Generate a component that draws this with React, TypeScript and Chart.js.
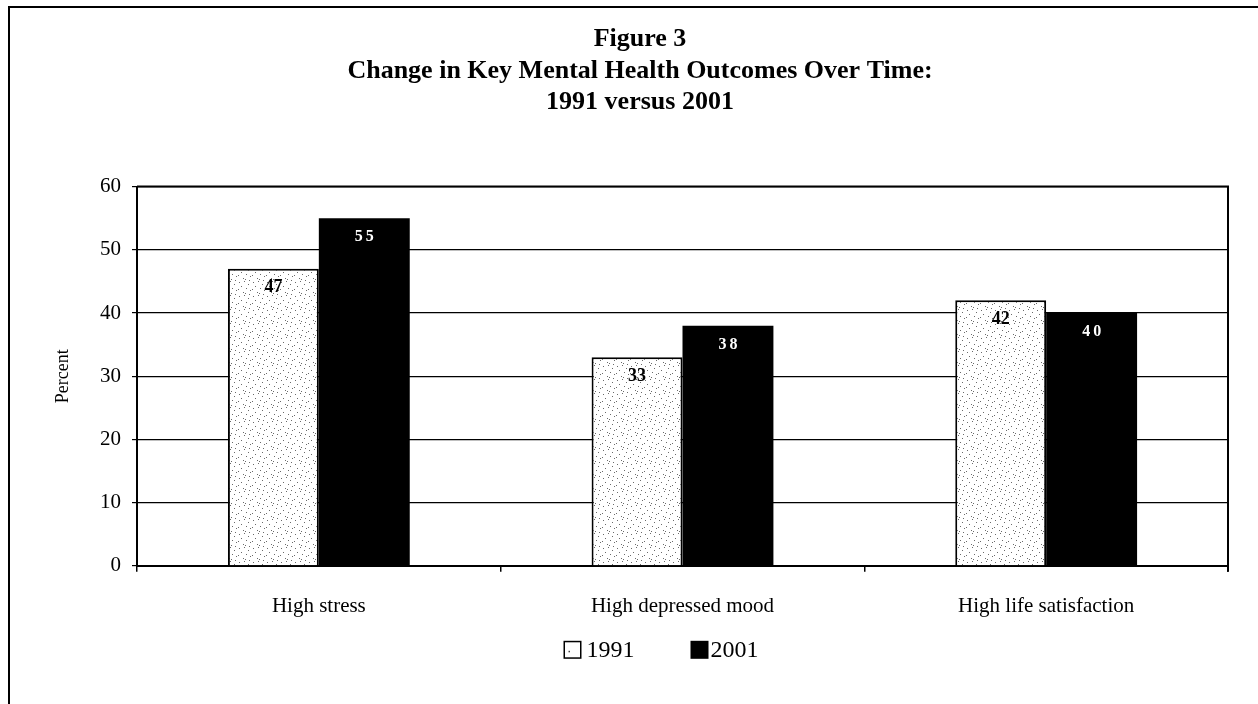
import React, { useEffect, useRef } from 'react';
import { Chart, registerables } from 'chart.js';

Chart.register(...registerables);

const categories = ['High stress', 'High depressed mood', 'High life satisfaction'];
const values1991 = [47, 33, 42];
const values2001 = [55, 38, 40];
const seriesNames = ['1991', '2001'];
const titleLines = ['Figure 3', 'Change in Key Mental Health Outcomes Over Time:', '1991 versus 2001'];
const yAxisTitle = 'Percent';
const yMin = 0;
const yMax = 60;
const yStep = 10;

const SERIF = "'Liberation Serif', 'Times New Roman', serif";
const W = 1258;
const H = 704;

function makeStipple(): CanvasPattern | string {
  const c = document.createElement('canvas');
  c.width = 14;
  c.height = 14;
  const g = c.getContext('2d');
  if (!g) return '#fff';
  g.fillStyle = '#ffffff';
  g.fillRect(0, 0, 14, 14);
  g.fillStyle = '#6a6a6a';
  const dots = [
    [1, 2], [6, 1], [10, 4], [3, 6], [8, 8], [12, 10], [5, 12], [0, 9], [11, 0], [7, 13],
  ];
  dots.forEach(([x, y]) => g.fillRect(x, y, 1, 1));
  const p = g.createPattern(c, 'repeat');
  return p || '#fff';
}

const framePlugin = {
  id: 'pageFrame',
  beforeDraw(chart: any) {
    const ctx = chart.ctx;
    ctx.save();
    ctx.fillStyle = '#ffffff';
    ctx.fillRect(0, 0, chart.width, chart.height);
    ctx.strokeStyle = '#000';
    ctx.lineWidth = 2;
    ctx.beginPath();
    ctx.moveTo(8, 7);
    ctx.lineTo(chart.width, 7);
    ctx.moveTo(9, 6);
    ctx.lineTo(9, chart.height);
    ctx.stroke();
    ctx.restore();
  },
  afterDraw(chart: any) {
    const { ctx, chartArea } = chart;
    ctx.save();
    ctx.strokeStyle = '#000';
    ctx.lineWidth = 2;
    ctx.beginPath();
    ctx.moveTo(chartArea.left, chartArea.top);
    ctx.lineTo(chartArea.right, chartArea.top);
    ctx.lineTo(chartArea.right, chartArea.bottom + 6);
    ctx.stroke();
    ctx.restore();
  },
};

const valueLabelPlugin = {
  id: 'valueLabels',
  afterDatasetsDraw(chart: any) {
    const ctx = chart.ctx;
    ctx.save();
    ctx.textAlign = 'center';
    ctx.textBaseline = 'middle';
    chart.data.datasets.forEach((ds: any, di: number) => {
      const meta = chart.getDatasetMeta(di);
      meta.data.forEach((bar: any, i: number) => {
        const v = ds.data[i];
        if (di === 0) {
          ctx.fillStyle = '#000';
          ctx.font = `bold 18px ${SERIF}`;
          (ctx as any).letterSpacing = '0px';
        } else {
          ctx.fillStyle = '#fff';
          ctx.font = `bold 16px ${SERIF}`;
          (ctx as any).letterSpacing = '3px';
        }
        ctx.fillText(String(v), bar.x + (di === 1 ? 1.5 : 0), bar.y + 19);
      });
    });
    ctx.restore();
  },
};

const legendPlugin = {
  id: 'bottomLegend',
  afterDraw(chart: any) {
    const { ctx, chartArea } = chart;
    ctx.save();
    ctx.font = `24px ${SERIF}`;
    ctx.textBaseline = 'middle';
    ctx.textAlign = 'left';
    const box = 18;
    const gap = 5;
    const spacing = 56;
    const items = chart.data.datasets.map((ds: any) => ({
      text: ds.label as string,
      w: ctx.measureText(ds.label).width,
      fill: ds.legendFill as string,
    }));
    const total = items.reduce((s: number, it: any) => s + box + gap + it.w, 0) + spacing * (items.length - 1);
    const cx = (chartArea.left + chartArea.right) / 2 - 20;
    const y = chartArea.bottom + 84;
    let x = cx - total / 2;
    items.forEach((it: any, i: number) => {
      if (it.fill === 'white') {
        ctx.fillStyle = '#fff';
        ctx.fillRect(x, y - box / 2, box, box);
        ctx.strokeStyle = '#000';
        ctx.lineWidth = 1.5;
        ctx.strokeRect(x + 0.75, y - box / 2 + 0.75, box - 1.5, box - 1.5);
        ctx.fillStyle = '#444';
        ctx.fillRect(x + 5, y + 1, 1.5, 1.5);
      } else {
        ctx.fillStyle = '#000';
        ctx.fillRect(x, y - box / 2, box, box);
      }
      ctx.fillStyle = '#000';
      ctx.fillText(it.text, x + box + (i === 0 ? gap : 2), y + 1);
      x += box + gap + it.w + spacing;
    });
    ctx.restore();
  },
};

export default function App() {
  const ref = useRef<HTMLCanvasElement | null>(null);

  useEffect(() => {
    document.body.style.margin = '0';
    const canvas = ref.current;
    if (!canvas) return;
    const stipple = makeStipple();
    const chart = new Chart(canvas, {
      type: 'bar',
      data: {
        labels: categories,
        datasets: [
          {
            label: seriesNames[0],
            data: values1991,
            backgroundColor: stipple as any,
            borderColor: '#000',
            borderWidth: 2,
            categoryPercentage: 0.5,
            barPercentage: 1,
            legendFill: 'white',
          } as any,
          {
            label: seriesNames[1],
            data: values2001,
            backgroundColor: '#000',
            borderColor: '#000',
            borderWidth: 0,
            categoryPercentage: 0.5,
            barPercentage: 1,
            legendFill: 'black',
          } as any,
        ],
      },
      options: {
        responsive: false,
        animation: false,
        devicePixelRatio: 1,
        layout: { padding: { left: 52, right: 30, top: 0, bottom: 63 } },
        plugins: {
          legend: { display: false },
          tooltip: { enabled: false },
          title: {
            display: true,
            text: titleLines,
            color: '#000',
            font: { family: SERIF, size: 26, weight: 'bold', lineHeight: 1.2 },
            padding: { top: 24, bottom: 69 },
          },
        },
        scales: {
          x: {
            type: 'category',
            offset: true,
            grid: {
              offset: true,
              drawOnChartArea: false,
              drawTicks: true,
              tickLength: 6,
              color: '#000',
              lineWidth: 1.5,
            },
            border: { display: true, color: '#000', width: 2 },
            ticks: {
              color: '#000',
              font: { family: SERIF, size: 21 },
              padding: 22,
              maxRotation: 0,
            },
          },
          y: {
            min: yMin,
            max: yMax,
            ticks: {
              stepSize: yStep,
              color: '#000',
              font: { family: SERIF, size: 21 },
              padding: 11,
            },
            grid: {
              color: '#000',
              lineWidth: 1.2,
              drawTicks: true,
              tickLength: 5,
            },
            border: { display: true, color: '#000', width: 2 },
            title: {
              display: true,
              text: yAxisTitle,
              color: '#000',
              font: { family: SERIF, size: 18 },
              padding: 0,
            },
            afterFit(scale: any) {
              scale.width = 85;
            },
          },
        },
      },
      plugins: [framePlugin, valueLabelPlugin, legendPlugin],
    });
    return () => chart.destroy();
  }, []);

  return (
    <div style={{ width: W, height: H }}>
      <canvas ref={ref} width={W} height={H} style={{ display: 'block' }} />
    </div>
  );
}
